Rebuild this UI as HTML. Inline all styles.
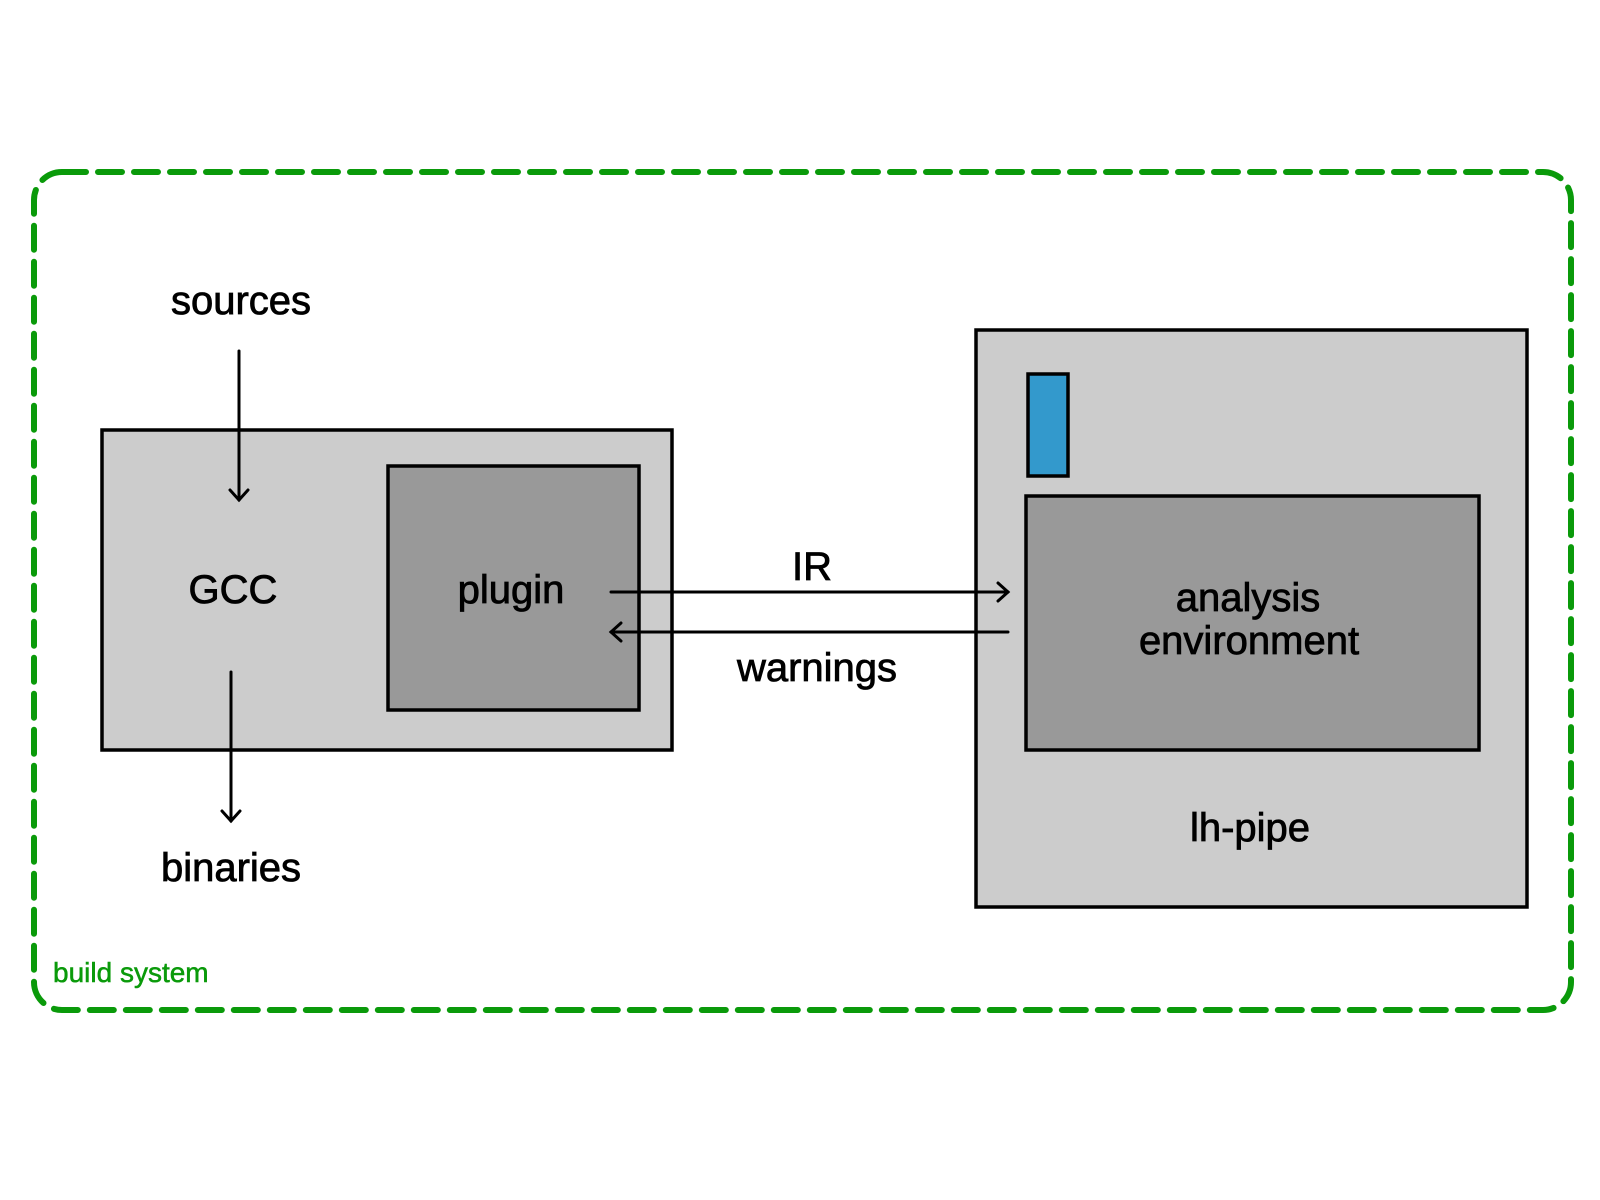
<!DOCTYPE html>
<html><head><meta charset="utf-8"><style>
html,body{margin:0;padding:0;background:#fff;}
svg{display:block;}
text{font-family:"Liberation Sans",sans-serif;fill:#000;}
</style></head><body>
<svg width="1600" height="1200" viewBox="0 0 1600 1200" xmlns="http://www.w3.org/2000/svg">
<rect x="34" y="172" width="1537" height="838" rx="28" ry="28" fill="none" stroke="#0a9a0a" stroke-width="6" stroke-dasharray="24 12" stroke-linecap="round"/>
<text x="53" y="982" font-size="28" style="fill:#0a9a0a;stroke:#0a9a0a;stroke-width:0.5">build system</text>

<rect x="102" y="430" width="570" height="320" fill="#cccccc" stroke="#000" stroke-width="3.5"/>
<rect x="388" y="466" width="251" height="244" fill="#999999" stroke="#000" stroke-width="3.5"/>
<rect x="976" y="330" width="551" height="577" fill="#cccccc" stroke="#000" stroke-width="3.5"/>
<rect x="1028" y="374" width="40" height="102" fill="#3399cc" stroke="#000" stroke-width="3.5"/>
<rect x="1026" y="496" width="453" height="254" fill="#999999" stroke="#000" stroke-width="3.5"/>

<g stroke="#000" stroke-width="3" fill="none" stroke-linecap="round">
<line x1="239" y1="351" x2="239" y2="500"/><polyline points="230,490 239,500 248,490"/>
<line x1="231" y1="672" x2="231" y2="821"/><polyline points="222,811 231,821 240,811"/>
<line x1="611" y1="592" x2="1008" y2="592"/><polyline points="998,583 1008,592 998,601"/>
<line x1="1008" y1="632" x2="611" y2="632"/><polyline points="621,623 611,632 621,641"/>
</g>

<g font-size="40" text-anchor="middle" style="stroke:#000;stroke-width:0.8">
<text x="241" y="314">sources</text>
<text x="233" y="603">GCC</text>
<text x="511" y="603">plugin</text>
<text x="812" y="580">IR</text>
<text x="817" y="681">warnings</text>
<text x="1248" y="611">analysis</text>
<text x="1249" y="654">environment</text>
<text x="1250" y="841">lh-pipe</text>
<text x="231" y="881">binaries</text>
</g>
</svg>
</body></html>
